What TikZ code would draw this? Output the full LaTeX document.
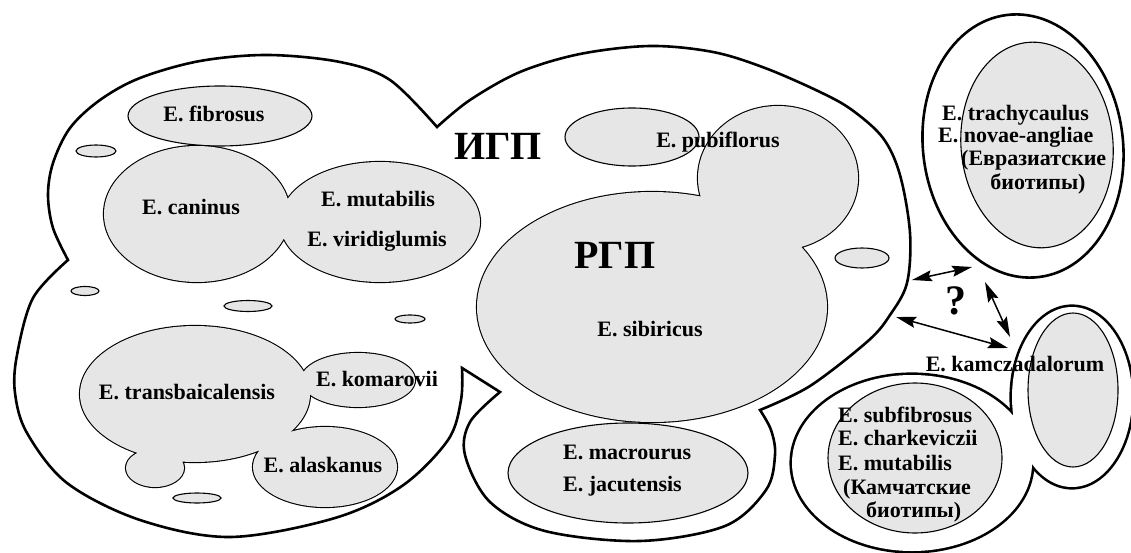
\documentclass[tikz,border=0pt]{standalone}
\usepackage{fontspec}
\setmainfont{Liberation Serif}
\usetikzlibrary{arrows.meta}
\definecolor{blobgrey}{RGB}{230,230,230}
\tikzset{
  outerln/.style={draw=black, line width=2.6pt, fill=white},
  blob/.style={draw=black, line width=1.1pt, fill=blobgrey},
  lbl/.style={font=\bfseries\fontsize{22}{24}\selectfont, inner sep=0pt, text height=14.5pt, text depth=0pt},
  biglbl/.style={font=\bfseries\fontsize{40}{40}\selectfont, inner sep=0pt, text height=27pt, text depth=0pt},
  arr/.style={{Stealth[length=20pt,width=11pt,inset=3pt]}-{Stealth[length=20pt,width=11pt,inset=3pt]}, line width=1.5pt}
}
\begin{document}
\begin{tikzpicture}[x=1pt,y=-1pt]
\useasboundingbox (0,0) rectangle (1131,553);
\fill[white] (0,0) rectangle (1131,553);

% outer IGP outline
\draw[outerln, line join=miter]
  plot[smooth, tension=0.55] coordinates {(437,127) (470,100) (520,72) (580,54) (650,46) (713,52) (765,68) (820,92) (852,110) (883,138) (900,175) (910,233) (907,283) (890,315) (868,341) (810,386) (760,410)}
  -- plot[smooth, tension=0.55] coordinates {(760,410) (771,430) (775,455) (766,490) (725,526) (640,541) (545,531) (490,502) (465,455) (470,422) (500,392)}
  -- (462,368)
  -- plot[smooth, tension=0.55] coordinates {(462,368) (461,400) (448,440) (402,486) (335,518) (230,537) (140,520) (67,483) (27,433) (15,393) (17,355) (33,298) (68,260)}
  -- plot[smooth, tension=0.55] coordinates {(68,260) (53,228) (48,195) (53,163) (70,128) (100,100) (140,78) (200,61) (268,55) (340,62) (390,80) (437,127)}
  -- cycle;

% small ellipses
\draw[blob] (96,151) ellipse [x radius=20, y radius=6];
\draw[blob] (85,291) ellipse [x radius=14, y radius=4.5];
\draw[blob] (248,306) ellipse [x radius=24, y radius=5.5];
\draw[blob] (410,319) ellipse [x radius=15, y radius=4];
\draw[blob] (197,498) ellipse [x radius=24, y radius=5];
\draw[blob] (862,258) ellipse [x radius=27, y radius=10];

% fibrosus
\draw[blob] (220,116) ellipse [x radius=92, y radius=30];

% caninus + mutabilis union
\draw[line width=2.2pt] (197,214) ellipse [x radius=93, y radius=68] (380,222) ellipse [x radius=100, y radius=60];
\fill[blobgrey] (197,214) ellipse [x radius=93, y radius=68] (380,222) ellipse [x radius=100, y radius=60];

% transbaicalensis union
\draw[line width=2.2pt] (195,394) ellipse [x radius=115, y radius=68] (155,468) ellipse [x radius=29, y radius=19]
  (358,380) ellipse [x radius=57, y radius=27] (325,467) ellipse [x radius=72, y radius=40];
\fill[blobgrey] (195,394) ellipse [x radius=115, y radius=68] (155,468) ellipse [x radius=29, y radius=19]
  (358,380) ellipse [x radius=57, y radius=27] (325,467) ellipse [x radius=72, y radius=40];

% RGP union
\draw[line width=2.2pt] (652,307) ellipse [x radius=175, y radius=115] (778,178) ellipse [x radius=80, y radius=72];
\fill[blobgrey] (652,307) ellipse [x radius=175, y radius=115] (778,178) ellipse [x radius=80, y radius=72];
\draw[blob] (632,137) ellipse [x radius=67, y radius=29];

% macrourus
\draw[blob] (628,473) ellipse [x radius=120, y radius=50];

% right top
\draw[outerln, rotate around={7:(1023,146)}] (1023,146) ellipse [x radius=100, y radius=132];
\draw[blob, rotate around={5:(1037,145)}] (1037,145) ellipse [x radius=76, y radius=103];

% right bottom union
\draw[line width=5.2pt] (912,463) ellipse [x radius=120, y radius=88] (1072,397) ellipse [x radius=60, y radius=90];
\fill[white] (912,463) ellipse [x radius=120, y radius=88] (1072,397) ellipse [x radius=60, y radius=90];
\draw[blob] (915,458) ellipse [x radius=87, y radius=75];
\draw[blob] (1073,390) ellipse [x radius=45, y radius=77];

% labels
\node[lbl] (fib) at (214,114.5) {E. fibrosus};
\node[lbl] (can) at (191,207.5) {E. caninus};
\node[lbl] (mut1) at (378,199.5) {E. mutabilis};
\node[lbl] (vir) at (377,239.5) {E. viridiglumis};
\node[lbl] (trb) at (187,392.5) {E. transbaicalensis};
\node[lbl] (kom) at (377,379.5) {E. komarovii};
\node[lbl] (ala) at (323,465.5) {E. alaskanus};
\node[biglbl] (igp) at (498,146) {ИГП};
\node[biglbl] (rgp) at (615,255) {РГП};
\node[lbl] (pub) at (718,140.5) {E. pubiflorus};
\node[lbl] (sib) at (650,329.5) {E. sibiricus};
\node[lbl, anchor=west] (mac) at (563,452.5) {E. macrourus};
\node[lbl, anchor=west] (jac) at (563,484.5) {E. jacutensis};
\node[lbl, anchor=west] (tr1) at (942,113.5) {E. trachycaulus};
\node[lbl, anchor=west] (tr2) at (938,135.5) {E. novae-angliae};
\node[lbl, anchor=west] (tr3) at (961,158) {(Евразиатские};
\node[lbl] (tr4) at (1038,182) {биотипы)};
\node[lbl] (kam) at (1015,364.5) {E. kamczadalorum};
\node[lbl, anchor=west] (sf1) at (838,415.5) {E. subfibrosus};
\node[lbl, anchor=west] (sf2) at (838,438) {E. charkeviczii};
\node[lbl, anchor=west] (sf3) at (838,463) {E. mutabilis};
\node[lbl, anchor=west] (sf4) at (843,487) {(Камчатские};
\node[lbl, anchor=west] (sf5) at (866,510.5) {биотипы)};
\node[font=\bfseries\fontsize{42}{42}\selectfont, inner sep=0pt] (q) at (956,301) {?};

% arrows
\coordinate (a1s) at (912,280); \coordinate (a1e) at (972,267);
\coordinate (a2s) at (985,282); \coordinate (a2e) at (1010,337);
\coordinate (a3s) at (896,317); \coordinate (a3e) at (1008,348);
\draw[arr] (a1s) -- (a1e);
\draw[arr] (a2s) -- (a2e);
\draw[arr] (a3s) -- (a3e);
\end{tikzpicture}
\end{document}
